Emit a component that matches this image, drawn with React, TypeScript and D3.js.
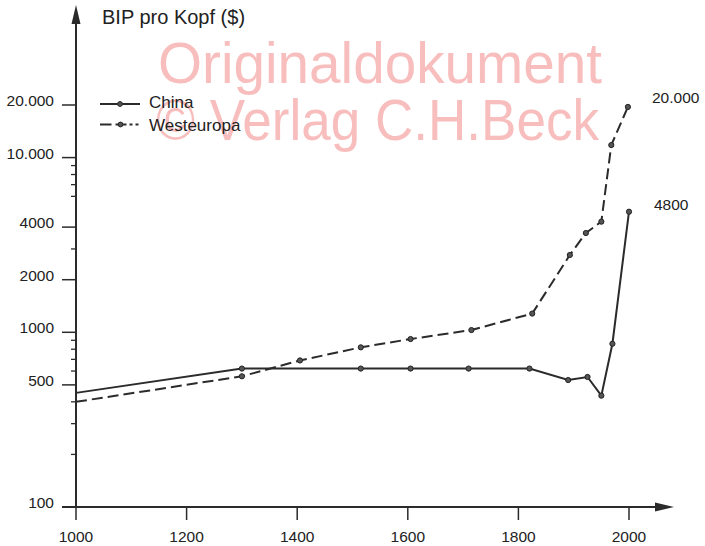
import React from "react";
import * as d3 from "d3";

// values
const chinaYears = [1000, 1300, 1515, 1605, 1710, 1820, 1890, 1925, 1950, 1970, 2000];
const chinaValues = [450, 620, 620, 620, 620, 620, 533, 555, 434, 860, 4900];

const westYears = [1000, 1300, 1405, 1515, 1605, 1715, 1825, 1893, 1922, 1950, 1968, 1998];
const westValues = [400, 560, 690, 820, 915, 1030, 1280, 2770, 3700, 4300, 11800, 19500];

const xTicks = [1000, 1200, 1400, 1600, 1800, 2000];
const yMajorTicks = [100, 500, 1000, 2000, 4000, 10000, 20000];
const yMajorLabels = ["100", "500", "1000", "2000", "4000", "10.000", "20.000"];
const yMinorTicks = [200, 300, 400, 600, 700, 800, 900, 3000, 6000, 7000, 8000, 9000];

const endLabels = ["20.000", "4800"];
const seriesNames = ["China", "Westeuropa"];

const width = 705;
const height = 546;
const ink = "#2b2b2b";
const font = "'Liberation Sans', Arial, Helvetica, sans-serif";

export default function App() {
  const x = d3.scaleLinear().domain([1000, 2000]).range([76, 629]);
  const y = d3.scaleLog().domain([100, 20000]).range([507, 105]);

  const line = d3
    .line<[number, number]>()
    .x((d) => x(d[0]))
    .y((d) => y(d[1]));

  const china: [number, number][] = chinaYears.map((yr, i) => [yr, chinaValues[i]]);
  const west: [number, number][] = westYears.map((yr, i) => [yr, westValues[i]]);

  const axisY0 = y(100);
  const axisX0 = x(1000);

  return (
    <svg
      width={width}
      height={height}
      style={{ position: "absolute", left: 0, top: 0, background: "#fff" }}
      fontFamily={font}
    >
      {/* watermark */}
      <g fill="#f8bebe">
        <text x={158} y={83} fontSize={57} textLength={444} lengthAdjust="spacingAndGlyphs">
          Originaldokument
        </text>
        <text x={156} y={140} fontSize={57} textLength={443} lengthAdjust="spacingAndGlyphs">
          © Verlag C.H.Beck
        </text>
      </g>

      {/* axes */}
      <g stroke={ink}>
        <line x1={axisX0} x2={axisX0} y1={axisY0} y2={20} strokeWidth={2} />
        <line x1={62} x2={660} y1={axisY0} y2={axisY0} strokeWidth={2} />
      </g>
      <path d={`M${axisX0},5 L${axisX0 - 4.5},24 L${axisX0 + 4.5},24 Z`} fill={ink} />
      <path d={`M674,${axisY0} L655,${axisY0 - 4.5} L655,${axisY0 + 4.5} Z`} fill={ink} />

      {/* y ticks */}
      {yMajorTicks.map((v, i) => (
        <g key={"ym" + v}>
          <line x1={62} x2={axisX0} y1={y(v)} y2={y(v)} stroke={ink} strokeWidth={1.5} />
          <text x={54} y={y(v) + 1} textAnchor="end" fontSize={15.5} fill="#222">
            {yMajorLabels[i]}
          </text>
        </g>
      ))}
      {yMinorTicks.map((v) => (
        <line key={"yn" + v} x1={71} x2={axisX0} y1={y(v)} y2={y(v)} stroke={ink} strokeWidth={1.3} />
      ))}

      {/* x ticks */}
      {xTicks.map((t) => (
        <g key={"x" + t}>
          <line x1={x(t)} x2={x(t)} y1={axisY0} y2={axisY0 + 13} stroke={ink} strokeWidth={1.5} />
          <text x={x(t)} y={541.5} textAnchor="middle" fontSize={15.5} fill="#222">
            {t}
          </text>
        </g>
      ))}

      <text x={102} y={24} fontSize={20} fill="#222">
        BIP pro Kopf ($)
      </text>

      {/* series */}
      <path d={line(china) || ""} fill="none" stroke={ink} strokeWidth={2} />
      <path d={line(west) || ""} fill="none" stroke={ink} strokeWidth={2} strokeDasharray="11,5" />
      {china.slice(1).map((d, i) => (
        <circle key={"c" + i} cx={x(d[0])} cy={y(d[1])} r={2.6} fill="#555" stroke="#222" strokeWidth={1} />
      ))}
      {west.slice(1).map((d, i) => (
        <circle key={"w" + i} cx={x(d[0])} cy={y(d[1])} r={2.6} fill="#555" stroke="#222" strokeWidth={1} />
      ))}

      {/* end labels */}
      <text x={652} y={102.5} fontSize={15.5} fill="#222">
        {endLabels[0]}
      </text>
      <text x={654} y={209.5} fontSize={15.5} fill="#222">
        {endLabels[1]}
      </text>

      {/* legend */}
      <g stroke={ink} strokeWidth={2}>
        <line x1={100} x2={140} y1={104} y2={104} />
        <line x1={100} x2={111.5} y1={124.5} y2={124.5} />
        <line x1={115.5} x2={126.5} y1={124.5} y2={124.5} />
        <line x1={129.5} x2={132.5} y1={124.5} y2={124.5} />
        <line x1={135.5} x2={138.5} y1={124.5} y2={124.5} />
      </g>
      <circle cx={120} cy={104} r={2.4} fill="#555" stroke="#222" />
      <circle cx={120.5} cy={124.5} r={2.4} fill="#555" stroke="#222" />
      <text x={149} y={107.5} fontSize={17} fill="#222">
        {seriesNames[0]}
      </text>
      <text x={149} y={130.5} fontSize={17} fill="#222">
        {seriesNames[1]}
      </text>
    </svg>
  );
}
